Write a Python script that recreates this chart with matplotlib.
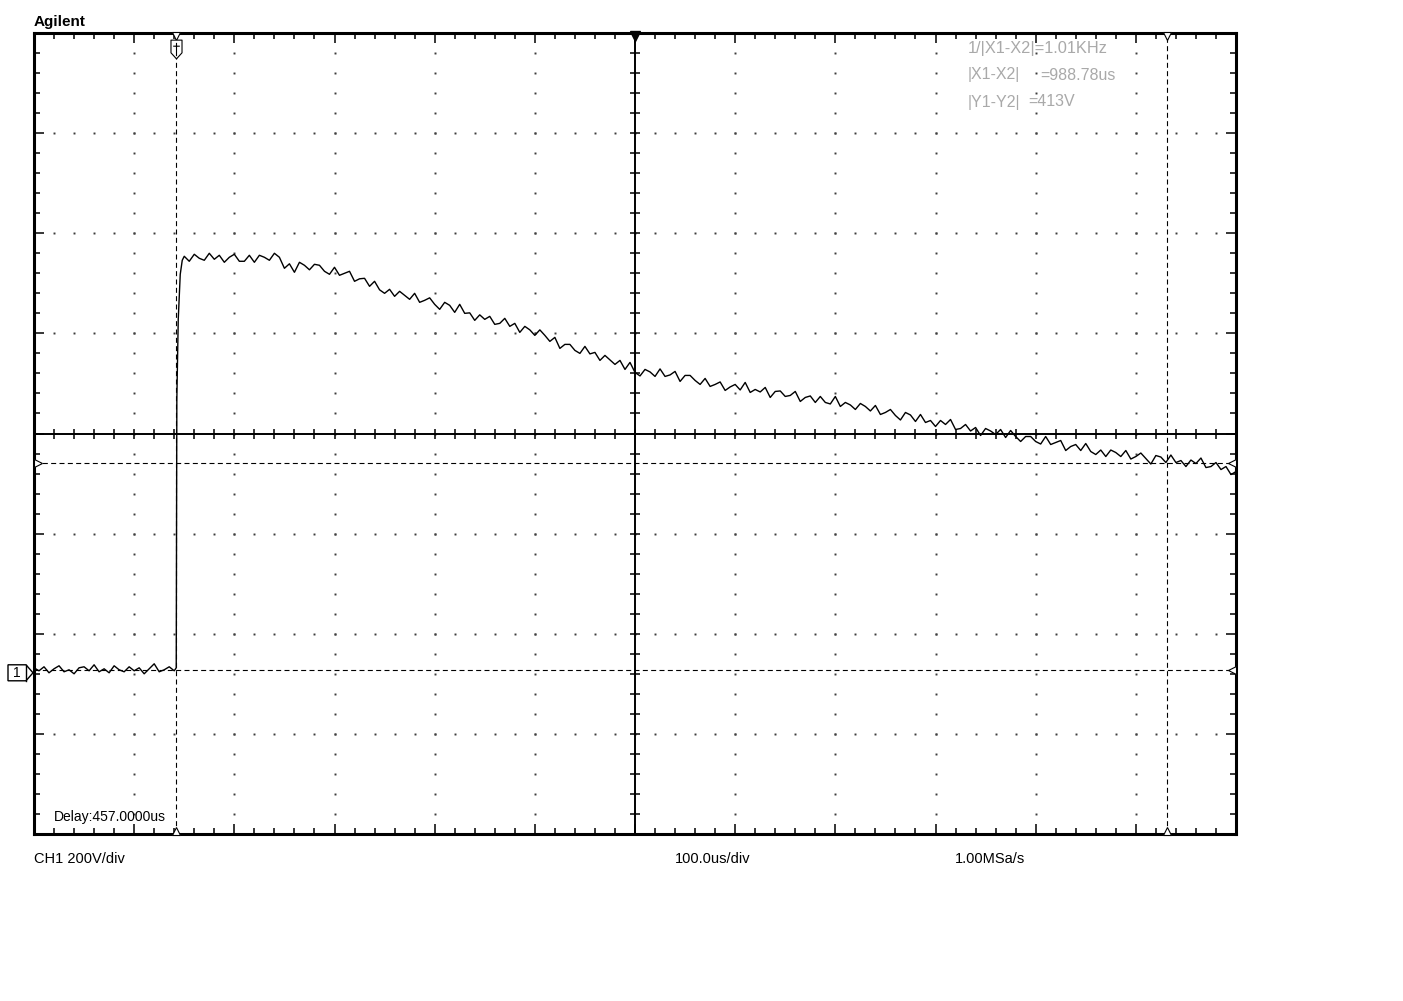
import numpy as np
import matplotlib
matplotlib.use("Agg")
import matplotlib.pyplot as plt
from matplotlib.path import Path
from matplotlib.patches import Polygon

plt.rcParams['font.family'] = ['Liberation Sans', 'DejaVu Sans']
plt.rcParams['lines.scale_dashes'] = False

# ---------------- texts ----------------
title_text = "Agilent"
ch_label = "CH1 200V/div"
time_label = "100.0us/div"
rate_label = "1.00MSa/s"
delay_label = "Delay:457.0000us"
meas_names = ["1/|X1-X2|=1.01KHz", "|X1-X2|", "|Y1-Y2|"]
meas_values = ["", "=988.78us", "=413V"]

# ---------------- scope settings ----------------
volts_per_div = 200
us_per_div = 100
n_xdiv = 12
n_ydiv = 8
ground_div = 1.64          # ground level above the bottom edge (divisions)

cursor_x1 = 142            # us
cursor_x2 = 1131           # us
cursor_y1 = 413            # V
cursor_y2 = 0              # V

# ---------------- waveform ----------------
pre_t = np.arange(0, 141, 5)
pre_v = [4, -2, 6, -6, 2, 8, -4, 0, -8, 4,
         6, -2, 10, -4, 2, -6, 8, 0, -4, 6,
         -2, 4, -8, 2, 12, -4, 0, 6, -2]
step_t = [142, 142.6, 144, 146, 148]
step_v = [4, 540, 700, 790, 818]
post_t = np.arange(150, 1201, 5)
post_v = [826, 816, 830, 822, 818, 832, 820, 828, 814, 824,
          830, 816, 816, 828, 814, 828, 824, 818, 832, 824,
          802, 811, 794, 814, 808, 799, 810, 808, 796, 790,
          804, 788, 792, 796, 776, 781, 782, 766, 776, 759,
          752, 760, 746, 756, 748, 740, 752, 734, 738, 743,
          730, 720, 734, 728, 714, 730, 712, 713, 698, 709,
          700, 706, 690, 692, 702, 686, 692, 674, 686, 679,
          668, 679, 668, 656, 664, 642, 650, 650, 638, 632,
          646, 631, 634, 618, 628, 619, 610, 618, 600, 614,
          594, 587, 600, 595, 586, 601, 586, 589, 596, 576,
          588, 588, 578, 570, 582, 566, 570, 575, 558, 565,
          570, 559, 574, 554, 560, 555, 564, 544, 556, 557,
          546, 548, 556, 536, 544, 547, 534, 546, 534, 531,
          546, 526, 534, 529, 520, 532, 526, 517, 528, 510,
          514, 520, 508, 499, 514, 509, 496, 510, 494, 498,
          486, 498, 490, 500, 480, 482, 490, 477, 484, 468,
          482, 477, 470, 480, 464, 478, 466, 456, 466, 466,
          456, 451, 466, 450, 454, 458, 438, 446, 450, 438,
          452, 436, 430, 439, 426, 439, 434, 426, 438, 421,
          426, 433, 422, 411, 428, 425, 414, 429, 414, 418,
          406, 419, 412, 423, 404, 406, 414, 400, 406, 390,
          396]

# ---------------- figure ----------------
W, H = 1403, 1001
fig = plt.figure(figsize=(W / 100, H / 100), dpi=100)
fig.patch.set_facecolor('white')
L, R, T, B = 34, 1236, 33, 834
ax = fig.add_axes([L / W, 1 - B / H, (R - L) / W, (B - T) / H])

xmin, xmax = 0, n_xdiv * us_per_div
ymin = -ground_div * volts_per_div
ymax = (n_ydiv - ground_div) * volts_per_div
ax.set_xlim(xmin, xmax)
ax.set_ylim(ymin, ymax)
px_x = (xmax - xmin) / (R - L)
px_y = (ymax - ymin) / (B - T)

for s in ax.spines.values():
    s.set_linewidth(2.2)
ax.set_xticks(np.arange(xmin, xmax + 1, us_per_div))
ax.set_xticks(xmin + np.arange(0, n_xdiv * 5 + 1) * us_per_div / 5, minor=True)
ax.set_yticks(ymin + np.arange(0, n_ydiv + 1) * volts_per_div)
ax.set_yticks(ymin + np.arange(0, n_ydiv * 5 + 1) * volts_per_div / 5, minor=True)
ax.tick_params(which='both', direction='in', top=True, right=True,
               labelbottom=False, labelleft=False, color='k')
ax.tick_params(which='major', length=7.5, width=1.1)
ax.tick_params(which='minor', length=4.3, width=1.1)

# grid dots
cx = xmin + n_xdiv / 2 * us_per_div
cy = ymin + n_ydiv / 2 * volts_per_div
dot_y = ymin + np.arange(1, n_ydiv * 5) * volts_per_div / 5
dot_x = xmin + np.arange(1, n_xdiv * 5) * us_per_div / 5
for k in range(1, n_xdiv):
    if k == n_xdiv // 2:
        continue
    xv = xmin + k * us_per_div
    ax.plot(np.full_like(dot_y, xv), dot_y, ls='none', marker='s', ms=1.4,
            mew=0, color='#3c3c3c', zorder=1)
for k in range(1, n_ydiv):
    if k == n_ydiv // 2:
        continue
    yv = ymin + k * volts_per_div
    ax.plot(dot_x, np.full_like(dot_x, yv), ls='none', marker='s', ms=1.4,
            mew=0, color='#3c3c3c', zorder=1)

# centre axes with ticks
ax.axhline(cy, color='k', lw=1.4, zorder=2)
ax.axvline(cx, color='k', lw=1.4, zorder=2)
ax.plot(dot_x, np.full_like(dot_x, cy), ls='none', marker='|', ms=7.5, mew=1.1,
        color='k', zorder=2)
ax.plot(np.full_like(dot_y, cx), dot_y, ls='none', marker='_', ms=7.5, mew=1.1,
        color='k', zorder=2)

# cursors
dash = (0, (3.6, 2.4))
ax.axvline(cursor_x1, color='k', lw=0.8, ls=dash, zorder=3)
ax.axvline(cursor_x2, color='k', lw=0.8, ls=dash, zorder=3)
ax.axhline(cursor_y1, color='k', lw=0.8, ls=dash, zorder=3)
ax.axhline(cursor_y2, color='k', lw=0.8, ls=dash, zorder=3)

# waveform
t = np.concatenate([pre_t, step_t, post_t])
v = np.concatenate([pre_v, step_v, post_v])
ax.plot(t, v, color='k', lw=1.0, zorder=5)

# cursor / trigger markers
mk = dict(ls='none', mfc='white', mec='k', mew=0.8, clip_on=False, zorder=6)
for xc in (cursor_x1, cursor_x2):
    ax.plot(xc, ymax - 3 * px_y, marker='v', ms=6, **mk)
    ax.plot(xc, ymin + 3.5 * px_y, marker='^', ms=6, **mk)
ax.plot(cx, ymax - 3 * px_y, marker='v', ms=6.5, ls='none', color='k',
        clip_on=False, zorder=6)
ax.plot(xmin + 4 * px_x, cursor_y1, marker='>', ms=6, **mk)
ax.plot(xmax - 4 * px_x, cursor_y1, marker='<', ms=6, **mk)
ax.plot(xmax - 4 * px_x, cursor_y2, marker='<', ms=6, **mk)

shield = Path([(-5, 8.5), (5, 8.5), (5, -3), (0, -8.5), (-5, -3), (-5, 8.5),
               (0, 6), (0, -6), (-3, 3), (3, 3)],
              [Path.MOVETO, Path.LINETO, Path.LINETO, Path.LINETO, Path.LINETO,
               Path.CLOSEPOLY, Path.MOVETO, Path.LINETO, Path.MOVETO, Path.LINETO])
ax.plot(cursor_x1, ymax - 15.5 * px_y, marker=shield, ms=13.5, **mk)

# ---------------- overlay (screen text) ----------------
ov = fig.add_axes([0, 0, 1, 1], zorder=10)
ov.set_xlim(0, W)
ov.set_ylim(H, 0)
ov.axis('off')
ov.patch.set_alpha(0)

ov.text(34, 22, title_text, fontsize=11, fontweight='bold', va='center', ha='left')
gray = '#a9a9a9'
ov.text(968, 48, meas_names[0], fontsize=11.8, color=gray, va='center')
ov.text(968, 75, meas_names[1], fontsize=11.5, color=gray, va='center')
ov.text(1040, 75, meas_values[1], fontsize=11.5, color=gray, va='center')
ov.text(968, 102, meas_names[2], fontsize=11.5, color=gray, va='center')
ov.text(1028, 102, meas_values[2], fontsize=11.5, color=gray, va='center')

ov.text(54, 817, delay_label, fontsize=10, va='center')
ov.text(34, 859, ch_label, fontsize=10.5, va='center')
ov.text(675, 859, time_label, fontsize=10.5, va='center')
ov.text(955, 859, rate_label, fontsize=10.5, va='center')

# ground marker for channel 1
y0 = H - ax.transData.transform((0, cursor_y2))[1] + 3
ov.add_patch(Polygon([(8, y0 - 8), (26, y0 - 8), (33, y0), (26, y0 + 8), (8, y0 + 8)],
                     closed=True, fc='white', ec='k', lw=1.0))
ov.plot([26, 26], [y0 - 8, y0 + 8], color='k', lw=1.0)
ov.text(17, y0, "1", fontsize=10, ha='center', va='center')

fig.savefig("out.png", dpi=100)
